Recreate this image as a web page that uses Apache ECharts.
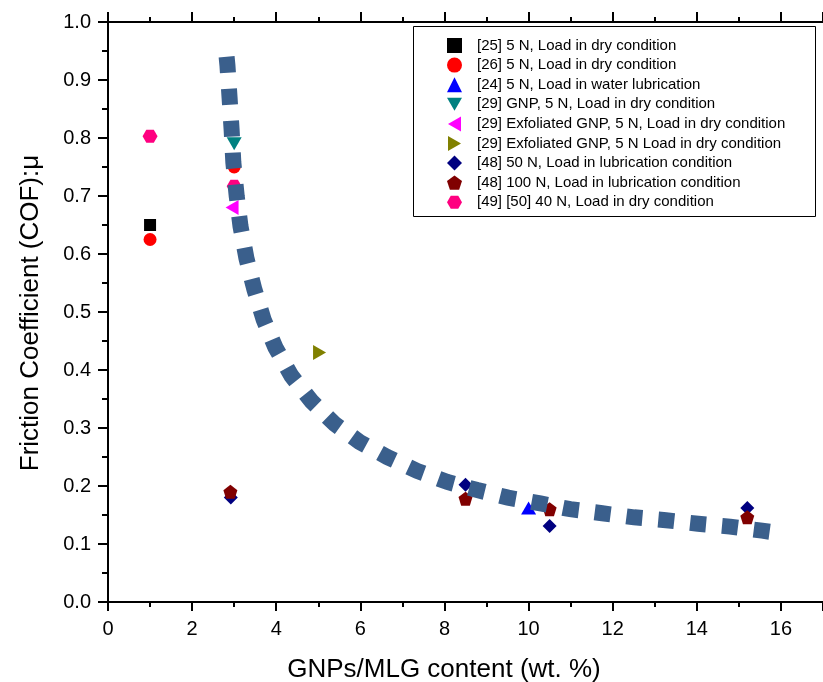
<!DOCTYPE html>
<html>
<head>
<meta charset="utf-8">
<script src="https://cdn.jsdelivr.net/npm/echarts@6/dist/echarts.min.js"></script>
<style>
html,body{margin:0;padding:0;background:#fff;}
#chart{width:823px;height:682px;}
</style>
</head>
<body>
<div id="chart"></div>
<script>
// ---- data ----
const seriesNames = [
  '[25] 5 N, Load in dry condition',
  '[26] 5 N, Load in dry condition',
  '[24] 5 N, Load in water lubrication',
  '[29] GNP, 5 N, Load in dry condition',
  '[29] Exfoliated GNP, 5 N, Load in dry condition',
  '[29] Exfoliated GNP, 5 N Load in dry condition',
  '[48] 50 N, Load in lubrication condition',
  '[48] 100 N, Load in lubrication condition',
  '[49] [50] 40 N, Load in dry condition'
];
const ref25 = [[1, 0.65]];
const ref26 = [[1, 0.625], [3, 0.75]];
const ref24 = [[10, 0.162]];
const ref29gnp = [[3, 0.79]];
const ref29exf = [[2.95, 0.68]];
const ref29exf2 = [[5.03, 0.43]];
const ref48_50 = [[2.92, 0.18], [8.5, 0.202], [10.5, 0.131], [15.2, 0.162]];
const ref48_100 = [[2.91, 0.19], [8.5, 0.178], [10.5, 0.16], [15.2, 0.146]];
const ref49_50 = [[1, 0.803], [3, 0.717]];
const trendCurve = [
  [2.82, 0.94], [2.84, 0.925], [2.89, 0.87], [2.94, 0.813], [2.98, 0.758],
  [3.06, 0.70], [3.15, 0.648], [3.29, 0.593], [3.48, 0.539], [3.70, 0.487],
  [3.98, 0.439], [4.36, 0.39], [4.84, 0.346], [5.39, 0.307], [5.98, 0.276],
  [6.64, 0.25], [7.35, 0.226], [8.07, 0.207], [8.78, 0.193], [9.51, 0.18],
  [10.28, 0.17], [10.99, 0.16], [11.75, 0.153], [12.51, 0.146], [13.27, 0.141],
  [14.03, 0.135], [14.79, 0.13], [15.55, 0.123], [15.75, 0.121]
];
const xTitle = 'GNPs/MLG content (wt. %)';
const yTitle = 'Friction Coefficient (COF):\u03bc';

// ---- style ----
const FONT = 'Liberation Sans, Arial, sans-serif';
const symbols = {
  square: 'rect',
  circle: 'circle',
  up: 'triangle',
  down: 'path://M0,0 L100,0 L50,87 Z',
  left: 'path://M0,50 L87,0 L87,100 Z',
  right: 'path://M0,0 L87,50 L0,100 Z',
  diamond: 'diamond',
  pentagon: 'path://M50,0 L97.6,34.5 L79.4,90.5 L20.6,90.5 L2.4,34.5 Z',
  hexagon: 'path://M25,0 L75,0 L100,43.3 L75,86.6 L25,86.6 L0,43.3 Z'
};
const cfg = [
  {data: ref25, sym: symbols.square, size: 12, color: '#000000'},
  {data: ref26, sym: symbols.circle, size: 13, color: '#FF0000'},
  {data: ref24, sym: symbols.up, size: [15, 13], color: '#0000FF'},
  {data: ref29gnp, sym: symbols.down, size: [15, 13], color: '#008080'},
  {data: ref29exf, sym: symbols.left, size: [13, 15], color: '#FF00FF'},
  {data: ref29exf2, sym: symbols.right, size: [13, 15], color: '#808000'},
  {data: ref48_50, sym: symbols.diamond, size: 14, color: '#000080'},
  {data: ref48_100, sym: symbols.pentagon, size: 14, color: '#800000'},
  {data: ref49_50, sym: symbols.hexagon, size: [15, 13], color: '#FF0080'}
];

const series = cfg.map((c, i) => ({
  name: seriesNames[i],
  type: 'scatter',
  data: c.data,
  symbol: c.sym,
  symbolSize: c.size,
  itemStyle: {color: c.color, opacity: 1},
  z: 2
}));
series.push({
  name: 'fit',
  type: 'line',
  data: trendCurve,
  symbol: 'none',
  smooth: false,
  lineStyle: {color: '#3A5F8C', width: 16, type: [16, 16], cap: 'butt', join: 'miter'},
  z: 5,
  silent: true
});

const chart = echarts.init(document.getElementById('chart'), null, {renderer: 'canvas'});
const axisLine = {show: true, lineStyle: {color: '#000', width: 2}};
chart.setOption({
  animation: false,
  backgroundColor: '#fff',
  textStyle: {fontFamily: FONT},
  grid: {left: 108, top: 22, width: 716, height: 580, containLabel: false},
  xAxis: [{
    type: 'value', min: 0, max: 17, interval: 2,
    axisLine: axisLine,
    axisTick: {show: true, inside: false, length: 9, lineStyle: {color: '#000', width: 2}},
    minorTick: {show: true, splitNumber: 2, length: 5, lineStyle: {color: '#000', width: 2}},
    axisLabel: {fontSize: 20, color: '#000', margin: 17, fontFamily: FONT, showMaxLabel: false},
    splitLine: {show: false}
  }, {
    type: 'value', min: 0, max: 17, interval: 2, position: 'top',
    axisLine: axisLine,
    axisTick: {show: true, inside: false, length: 10, lineStyle: {color: '#000', width: 2}},
    minorTick: {show: true, splitNumber: 2, length: 5, lineStyle: {color: '#000', width: 2}},
    axisLabel: {show: false},
    splitLine: {show: false}
  }],
  yAxis: [{
    type: 'value', min: 0, max: 1, interval: 0.1,
    axisLine: axisLine,
    axisTick: {show: true, inside: false, length: 10, lineStyle: {color: '#000', width: 2}},
    minorTick: {show: true, splitNumber: 2, length: 6, lineStyle: {color: '#000', width: 2}},
    axisLabel: {fontSize: 20, color: '#000', margin: 17, fontFamily: FONT,
      formatter: v => v.toFixed(1)},
    splitLine: {show: false}
  }],
  legend: {
    data: seriesNames,
    orient: 'vertical',
    left: 447, top: 38,
    itemWidth: 15, itemHeight: 15,
    itemGap: 4.6,
    padding: 0,
    textStyle: {fontSize: 15, color: '#000', fontFamily: FONT, padding: [0, 0, 0, 10]},
    selectedMode: false
  },
  graphic: [
    {type: 'rect', shape: {x: 413.5, y: 26.5, width: 402, height: 190},
     style: {fill: 'none', stroke: '#000', lineWidth: 1}, z: 10},
    {type: 'text', x: 444, y: 670,
     style: {text: xTitle, font: '26px ' + FONT, fill: '#000', textAlign: 'center', textVerticalAlign: 'middle'}},
    {type: 'text', x: 31, y: 313, rotation: Math.PI / 2,
     style: {text: yTitle, font: '26px ' + FONT, fill: '#000', textAlign: 'center', textVerticalAlign: 'middle'}}
  ],
  series: series
});
</script>
</body>
</html>
